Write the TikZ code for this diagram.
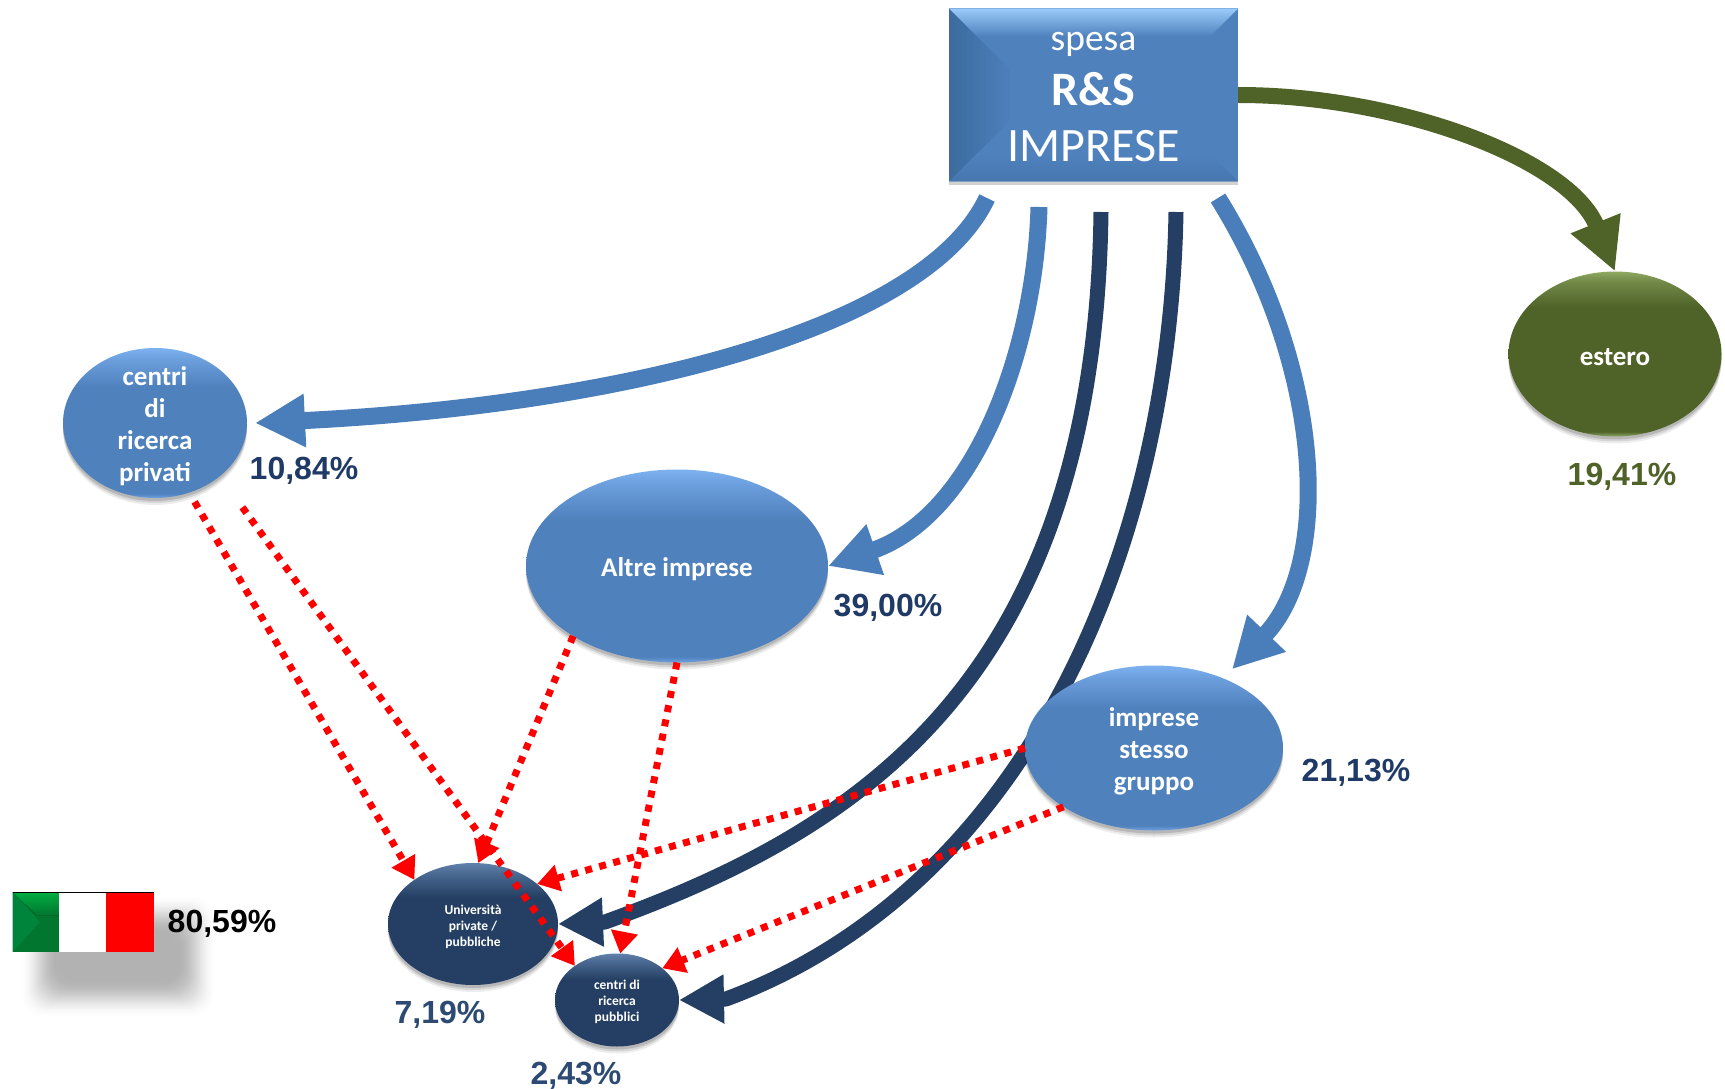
\documentclass[tikz,border=0pt]{standalone}
\usepackage{fontspec}
\setmainfont{Carlito}
\newfontfamily\pctfont{Liberation Sans}[Scale=1]
\usetikzlibrary{arrows.meta,shapes.geometric}
\definecolor{bluebase}{HTML}{4F81BD}
\definecolor{bluelight}{HTML}{7DB1F0}
\definecolor{bluerim}{HTML}{6FA3E0}
\definecolor{boxlight}{HTML}{9ACBFA}
\definecolor{boxshade}{HTML}{4676AE}
\definecolor{darkbase}{HTML}{243F63}
\definecolor{darklight}{HTML}{5F80AB}
\definecolor{greenbase}{HTML}{4F6228}
\definecolor{greenlight}{HTML}{8FA962}
\definecolor{pctblue}{HTML}{1F3A66}
\definecolor{pctdark}{HTML}{2C4A72}
\definecolor{arrowblue}{HTML}{4A7EBB}
\definecolor{flagmid}{HTML}{00762F}
\definecolor{flagtop}{HTML}{00AE42}
\definecolor{flagleft}{HTML}{00833A}
\pgfdeclareverticalshading{bevelblue}{100bp}{color(0bp)=(bluerim);color(25bp)=(bluerim);color(26.5bp)=(bluebase);color(62bp)=(bluebase);color(71bp)=(bluelight!60!bluebase);color(75bp)=(bluelight);color(100bp)=(bluelight)}
\pgfdeclareverticalshading{beveldark}{100bp}{color(0bp)=(darkbase);color(25bp)=(darkbase);color(61bp)=(darkbase);color(70bp)=(darklight!60!darkbase);color(75bp)=(darklight);color(100bp)=(darklight)}
\pgfdeclareverticalshading{bevelgreen}{100bp}{color(0bp)=(greenlight);color(25bp)=(greenlight);color(26.5bp)=(greenbase);color(64bp)=(greenbase);color(72bp)=(greenlight!55!greenbase);color(75bp)=(greenlight);color(100bp)=(greenlight)}
\pgfdeclareverticalshading{boxtop}{100bp}{color(0bp)=(bluebase);color(25bp)=(bluebase);color(40bp)=(bluebase);color(75bp)=(boxlight);color(100bp)=(boxlight)}
\pgfdeclareverticalshading{boxbottom}{100bp}{color(0bp)=(boxshade);color(25bp)=(boxshade);color(70bp)=(bluebase);color(100bp)=(bluebase)}
\newcommand{\lowtext}[2]{\raisebox{-#1}[\height][\depth]{\begin{tabular}{@{}c@{}}#2\end{tabular}}}
\tikzset{
  softshadow/.style={
    preaction={draw=none,fill=black,fill opacity=.07,transform canvas={yshift=-7pt}},
    preaction={draw=none,fill=black,fill opacity=.10,transform canvas={yshift=-5pt}},
    preaction={draw=none,fill=black,fill opacity=.14,transform canvas={yshift=-3pt}}},
  orb/.style={ellipse,inner sep=0pt,outer sep=0pt,text=white,softshadow},
  orbblue/.style={orb,shading=bevelblue,font=\bfseries\fontsize{27}{32}\selectfont},
  orbdark/.style={orb,shading=beveldark},
  orbgreen/.style={orb,shading=bevelgreen,font=\bfseries\fontsize{27}{32}\selectfont},
  pct/.style={inner sep=0pt,font=\pctfont\bfseries\fontsize{32}{36}\selectfont},
  flowblue/.style={draw=arrowblue,line width=17pt,line join=round,-{Triangle[length=50pt,width=50pt]}},
  flowdark/.style={draw=darkbase,line width=15pt,line join=round,-{Triangle[length=45pt,width=46pt]}},
  flowgreen/.style={draw=greenbase,line width=16pt,-{Triangle[length=52pt,width=50pt]}},
  flowred/.style={draw=red,line width=7pt,dash pattern=on 7pt off 7.5pt,-{Triangle[length=22pt,width=26pt]}},
}
\begin{document}
\begin{tikzpicture}[x=1pt,y=-1pt]
\useasboundingbox (0,0) rectangle (1725,1089);
% flag shadow: opaque nested greys on the white ground
\foreach \i in {0,...,34}{
  \pgfmathsetmacro{\u}{\i/34}
  \pgfmathsetmacro{\greyval}{30*(3*\u*\u-2*\u*\u*\u)}
  \fill[black!\greyval!white,rounded corners=20pt] ({20+1.1*\i},{895+1.1*\i}) rectangle ({216-1.1*\i},{1018-1.1*\i});
}
% nodes
\node[draw=none,inner sep=0pt,minimum width=289pt,minimum height=173pt,align=center,text=white,
  font=\fontsize{48}{55.5}\selectfont,fill=bluebase,
  preaction={fill=black,fill opacity=.18,transform canvas={yshift=-4pt}},
  path picture={
    \foreach \ins in {6,12,...,60}{
      \fill[black,fill opacity=.014]
        (path picture bounding box.north west) -- ([xshift=\ins pt,yshift=-\ins pt]path picture bounding box.north west)
        -- ([xshift=\ins pt,yshift=\ins pt]path picture bounding box.south west) -- (path picture bounding box.south west) -- cycle;
    }
    \fill[shading=boxbottom]
      (path picture bounding box.south west) -- ([xshift=30pt,yshift=30pt]path picture bounding box.south west)
      -- ([xshift=-30pt,yshift=30pt]path picture bounding box.south east) -- (path picture bounding box.south east) -- cycle;
    \fill[shading=boxtop]
      (path picture bounding box.north west) -- (path picture bounding box.north east)
      -- ([xshift=-40pt,yshift=-40pt]path picture bounding box.north east)
      -- ([xshift=40pt,yshift=-40pt]path picture bounding box.north west) -- cycle;
  }] (box) at (1093.5,95) {\rule{0pt}{22pt}{\fontsize{37.5}{55.5}\selectfont spesa}\\{\bfseries R\&S}\\IMPRESE};
\node[orbgreen,minimum width=213pt,minimum height=165pt] (estero) at (1615,354) {\lowtext{5pt}{estero}};
\node[orbblue,minimum width=184pt,minimum height=150pt,inner ysep=-14pt] (privati) at (155,423) {\lowtext{4pt}{centri\\di\\ricerca\\privati}};
\node[orbblue,minimum width=302pt,minimum height=193pt] (altre) at (677,566) {\lowtext{4.5pt}{Altre imprese}};
\coordinate (s4) at (1176,212);
\coordinate (j4) at (726,999);
\node[orbdark,minimum width=124pt,minimum height=93pt,font=\bfseries\fontsize{13.5}{16}\selectfont] (pubb) at (617,1000) {\lowtext{2.5pt}{centri di\\ricerca\\pubblici}};
\draw[flowdark] (s4) .. controls (1170,560) and (1020,890) .. (j4) -- (pubb.east);
\node[orbblue,minimum width=258pt,minimum height=165pt] (gruppo) at (1154,748) {\lowtext{4pt}{imprese\\stesso\\gruppo}};
\node[orbdark,minimum width=170pt,minimum height=122pt,font=\bfseries\fontsize{13.5}{16}\selectfont] (univ) at (473,924) {\lowtext{3pt}{Università\\private /\\pubbliche}};
% free ends at the box
\coordinate (s1) at (987,198);
\coordinate (s2) at (1039,207);
\coordinate (s3) at (1101,212);
\coordinate (j3) at (605,922);
\coordinate (s5) at (1218,198);
% main flows
\draw[flowblue] (s1) .. controls (925,330) and (620,405) .. ([xshift=8pt]privati.east);
\draw[flowblue] (s2) .. controls (1035,350) and (975,515) .. (altre.east);
\draw[flowdark] (s3) .. controls (1095,680) and (860,830) .. (j3) -- (univ.east);
\draw[flowblue] (s5) .. controls (1325,370) and (1332,565) .. ([xshift=17pt,yshift=6pt]gruppo.50);
\draw[flowgreen] (box.east) .. controls (1400,95) and (1570,160) .. (estero.north);
% red flows
\draw[flowred] ([xshift=3pt,yshift=-10pt]privati.-62) -- (univ.143);
\draw[flowred] ([xshift=28pt,yshift=-27pt]privati.-44) -- (pubb.141);
\draw[flowred] (altre.214) -- (univ.85);
\draw[flowred] (altre.270) -- (pubb.86);
\draw[flowred] (gruppo.180) -- (univ.32);
\draw[flowred] (gruppo.213) -- (pubb.35);
% percentages
\node[pct,text=pctblue] (p1) at (304,471) {10,84\%};
\node[pct,text=pctblue] (p2) at (888,608) {39,00\%};
\node[pct,text=pctblue] (p3) at (1356,773) {21,13\%};
\node[pct,text=greenbase] (p4) at (1622,477) {19,41\%};
\node[pct,text=black] (p5) at (222,924) {80,59\%};
\node[pct,text=pctdark] (p6) at (440,1015) {7,19\%};
\node[pct,text=pctdark] (p7) at (576,1076) {2,43\%};
% flag
\fill[flagmid] (12.5,892) rectangle (59,952);
\fill[top color=flagtop,bottom color=flagmid] (12.5,892) -- (59,892) -- (59,915) -- (36,915) -- cycle;
\fill[flagleft] (12.5,892) -- (40,922) -- (12.5,952) -- cycle;
\fill[white] (59,892) rectangle (106,952);
\fill[red] (106,892) rectangle (154,952);
\draw[black,line width=1pt] (12.5,892) -- (154,892);
\end{tikzpicture}
\end{document}
